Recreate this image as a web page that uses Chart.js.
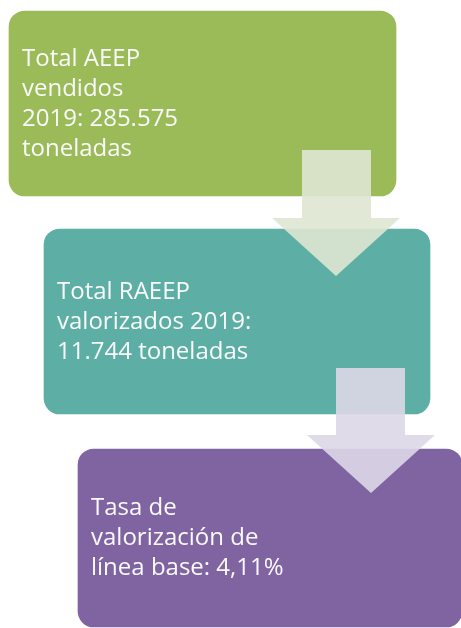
<!DOCTYPE html>
<html>
<head>
<meta charset="utf-8">
<script src="https://cdn.jsdelivr.net/npm/chart.js@4"></script>
<style>
  html, body { margin: 0; padding: 0; background: #fff; }
  canvas { display: block; }
</style>
</head>
<body>
<canvas id="flow" width="461" height="628"></canvas>
<script>
// text of each step, one list of lines per box
const stepLines = [
  ['Total AEEP', 'vendidos', '2019: 285.575', 'toneladas'],
  ['Total RAEEP', 'valorizados 2019:', '11.744 toneladas'],
  ['Tasa de', 'valorización de', 'línea base: 4,11%']
]
// box extents on the page grid (x from the left, y from the top)
const boxX = [[9, 396], [44, 430], [78, 462]]
const boxY = [[11, 196], [229, 414], [449, 627]]
const boxColours = ['#9BBB59', '#5DAFA5', '#8064A2']

// down arrows between the boxes
const arrowShaftX = [[302, 371], [336, 405]]
const arrowShaftTop = [150, 368]
const arrowHeadX = [[272, 400], [307, 435]]
const arrowHeadY = [[218, 276], [435, 493]]   // base of head, tip
const arrowColours = ['rgba(222, 231, 209, 0.9)', 'rgba(221, 215, 231, 0.9)']

/**
 * Draws the arrows and the white text of each box on top of the bars.
 */
const flowDecor = {
  id: 'flowDecor',
  afterDatasetsDraw (chart) {
    let ctx = chart.ctx,
    px = v => chart.scales.x.getPixelForValue(v),
    py = v => chart.scales.y.getPixelForValue(v)

    ctx.save()
    arrowShaftX.forEach((shaft, i) => {
      let head = arrowHeadX[i], hy = arrowHeadY[i]
      ctx.beginPath()
      ctx.moveTo(px(shaft[0]), py(arrowShaftTop[i]))
      ctx.lineTo(px(shaft[1]), py(arrowShaftTop[i]))
      ctx.lineTo(px(shaft[1]), py(hy[0]))
      ctx.lineTo(px(head[1]), py(hy[0]))
      ctx.lineTo(px((head[0] + head[1]) / 2), py(hy[1]))
      ctx.lineTo(px(head[0]), py(hy[0]))
      ctx.lineTo(px(shaft[0]), py(hy[0]))
      ctx.closePath()
      ctx.fillStyle = arrowColours[i]
      ctx.fill()
    })

    ctx.fillStyle = '#fafafa'
    ctx.font = '24px "Open Sans"'
    ctx.textBaseline = 'alphabetic'
    ctx.textAlign = 'left'
    stepLines.forEach((lines, i) => {
      let bar = chart.getDatasetMeta(i).data[0].getProps(['x', 'base', 'y'], true),
      left = Math.min(bar.x, bar.base) + 13
      lines.forEach((line, j) => {
        ctx.fillText(line, left, bar.y + (j - (lines.length - 1) / 2) * 30 + 7)
      })
    })
    ctx.restore()
  }
}

let datasets = stepLines.map((lines, i) => ({
  label: lines.join(' '),
  data: [{ x: boxX[i], y: (boxY[i][0] + boxY[i][1]) / 2 }],
  backgroundColor: boxColours[i],
  barThickness: boxY[i][1] - boxY[i][0],
  borderRadius: 16,
  borderSkipped: false,
  grouped: false
}))

new Chart(document.getElementById('flow').getContext('2d'), {
  type: 'bar',
  data: { datasets: datasets },
  options: {
    indexAxis: 'y',
    responsive: false,
    animation: false,
    devicePixelRatio: 1,
    layout: { padding: 0 },
    scales: {
      x: { type: 'linear', min: 0, max: 461, offset: false, display: false },
      y: { type: 'linear', min: 0, max: 628, reverse: true, offset: false, display: false }
    },
    plugins: {
      legend: { display: false },
      tooltip: { enabled: false }
    }
  },
  plugins: [flowDecor]
})
</script>
</body>
</html>
